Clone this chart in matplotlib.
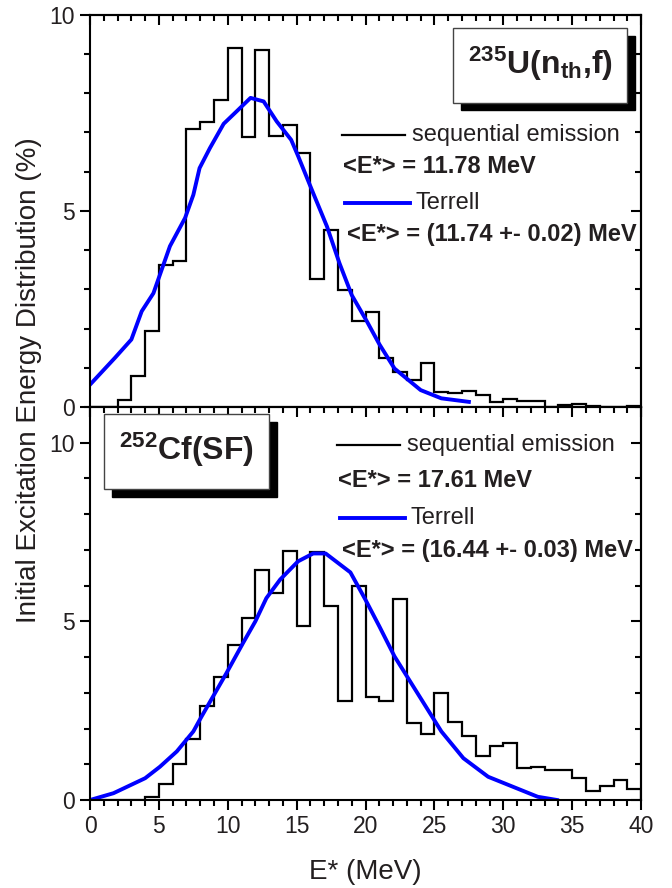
import matplotlib
matplotlib.use("Agg")
import matplotlib.pyplot as plt
from matplotlib.patches import Rectangle
from matplotlib.ticker import MultipleLocator
import numpy as np

plt.rcParams['font.family'] = ['Liberation Sans', 'DejaVu Sans']
plt.rcParams['mathtext.fontset'] = 'custom'
plt.rcParams['mathtext.bf'] = 'Liberation Sans:bold'
plt.rcParams['mathtext.rm'] = 'Liberation Sans:bold'
plt.rcParams['mathtext.default'] = 'bf'

TXT = '#231f20'

# 1 MeV bins, 0..40 MeV
edges = np.arange(0, 41)

# 235U(nth,f) - sequential emission histogram (%)
u235_seq = [0, 0, 0.19, 0.78, 1.93, 3.63, 3.73, 7.09, 7.26, 7.83,
            9.15, 6.88, 9.11, 6.92, 7.20, 6.47, 3.27, 4.50, 2.98, 2.20,
            2.43, 1.25, 0.88, 0.70, 1.11, 0.38, 0.36, 0.41, 0.31, 0.12,
            0.20, 0.16, 0.14, 0.01, 0.05, 0.08, 0.03, 0.0, 0.0, 0.03]
# 235U(nth,f) - Terrell curve
u235_ter_e = [0, 1.8, 3.0, 3.75, 4.6, 5.8, 6.9, 7.5, 7.95, 8.7, 9.7, 10.65,
              11.65, 12.6, 13.55, 14.6, 15.1, 16.2, 17.2, 18.1, 19.0, 20.1,
              21.0, 22.1, 24.0, 25.5, 27.5]
u235_ter_y = [0.57, 1.25, 1.72, 2.44, 2.9, 4.1, 4.82, 5.41, 6.09, 6.6, 7.22, 7.54,
              7.88, 7.79, 7.28, 6.81, 6.4, 5.45, 4.6, 3.67, 2.85, 2.18,
              1.6, 0.98, 0.43, 0.22, 0.13]

# 252Cf(SF) - sequential emission histogram (%)
cf252_seq = [0, 0, 0, 0, 0.09, 0.45, 1.0, 1.70, 2.64, 3.44,
             4.33, 5.09, 6.45, 5.79, 6.96, 4.86, 6.94, 5.44, 2.76, 5.98,
             2.88, 2.76, 5.63, 2.15, 1.84, 2.99, 2.17, 1.78, 1.24, 1.52,
             1.59, 0.89, 0.93, 0.84, 0.84, 0.61, 0.25, 0.40, 0.56, 0.30]
# 252Cf(SF) - Terrell curve
cf252_ter_e = [0, 1.7, 4.0, 5.07, 6.3, 7.5, 8.1, 9.9, 11.1, 12.0, 12.8, 13.8,
               15.1, 16.2, 17.1, 18.9, 20.0, 21.0, 22.1, 25.5, 27.1, 28.9,
               32.5, 33.9]
cf252_ter_y = [0, 0.19, 0.61, 0.93, 1.36, 1.92, 2.34, 3.55, 4.39, 5.0, 5.65, 6.17,
               6.68, 6.9, 6.9, 6.37, 5.6, 4.86, 4.02, 1.92, 1.17, 0.65,
               0.09, 0.0]

u235_mean_seq = "<E*> = 11.78 MeV"
u235_mean_ter = "<E*> = (11.74 +- 0.02) MeV"
cf252_mean_seq = "<E*> = 17.61 MeV"
cf252_mean_ter = "<E*> = (16.44 +- 0.03) MeV"


def style_axis(ax, ymax, xlabels):
    ax.set_xlim(0, 40)
    ax.set_ylim(0, ymax)
    ax.xaxis.set_major_locator(MultipleLocator(5))
    ax.xaxis.set_minor_locator(MultipleLocator(1))
    ax.yaxis.set_major_locator(MultipleLocator(5))
    ax.yaxis.set_minor_locator(MultipleLocator(1))
    ax.tick_params(which='both', direction='out', width=1.5, colors='black',
                   labelcolor=TXT, labelsize=16.5, top=False, right=False,
                   labelbottom=xlabels)
    ax.tick_params(which='major', length=7, pad=4)
    ax.tick_params(which='minor', length=4.5)
    for sp in ax.spines.values():
        sp.set_linewidth(1.5)
    # mirrored axes with inward ticks
    sx = ax.secondary_xaxis('top')
    sx.xaxis.set_major_locator(MultipleLocator(5))
    sx.xaxis.set_minor_locator(MultipleLocator(1))
    sx.tick_params(which='both', direction='in', width=1.5, labeltop=False)
    sx.tick_params(which='major', length=7)
    sx.tick_params(which='minor', length=4.5)
    sx.spines['top'].set_linewidth(1.5)
    sy = ax.secondary_yaxis('right')
    sy.yaxis.set_major_locator(MultipleLocator(5))
    sy.yaxis.set_minor_locator(MultipleLocator(1))
    sy.tick_params(which='both', direction='in', width=1.5, labelright=False)
    sy.tick_params(which='major', length=7)
    sy.tick_params(which='minor', length=4.5)
    sy.spines['right'].set_linewidth(1.5)


def shadow_box(ax, x0, y0, x1, y1, label):
    dx, dy = 0.0145, 0.02
    ax.add_patch(Rectangle((x0 + dx, y0 - dy), x1 - x0, y1 - y0, transform=ax.transAxes,
                           facecolor='black', edgecolor='black', zorder=5))
    ax.add_patch(Rectangle((x0, y0), x1 - x0, y1 - y0, transform=ax.transAxes,
                           facecolor='white', edgecolor='#444444', lw=1.0, zorder=6))
    ax.text((x0 + x1) / 2, (y0 + y1) / 2 + 0.005, label, transform=ax.transAxes,
            ha='center', va='center', fontsize=23, fontweight='bold', color=TXT, zorder=7)


def legend_block(ax, x, ys, mean_seq, mean_ter):
    y1, y2, y3, y4 = ys
    ax.plot([x, x + 0.115], [y1, y1], color='black', lw=1.6, transform=ax.transAxes)
    ax.text(x + 0.127, y1, "sequential emission", transform=ax.transAxes,
            ha='left', va='center', fontsize=17, color=TXT)
    ax.text(x + 0.002, y2, mean_seq, transform=ax.transAxes,
            ha='left', va='center', fontsize=17, fontweight='bold', color=TXT)
    ax.plot([x + 0.006, x + 0.124], [y3, y3], color='#0000ff', lw=2.8, transform=ax.transAxes)
    ax.text(x + 0.134, y3, "Terrell", transform=ax.transAxes,
            ha='left', va='center', fontsize=17, color=TXT)
    ax.text(x + 0.009, y4, mean_ter, transform=ax.transAxes,
            ha='left', va='center', fontsize=17, fontweight='bold', color=TXT)


fig = plt.figure(figsize=(6.72, 8.88), dpi=100)
ax1 = fig.add_axes([0.134, 0.5417, 0.820, 0.4417])
ax2 = fig.add_axes([0.134, 0.0991, 0.820, 0.4426])

# top panel: 235U(nth,f)
ax1.stairs(u235_seq, edges, color='black', lw=1.6, baseline=0)
ax1.plot(u235_ter_e, u235_ter_y, color='#0000ff', lw=2.8)
style_axis(ax1, 10, False)
shadow_box(ax1, 0.659, 0.776, 0.974, 0.966, r'$^{235}$U(n$_{th}$,f)')
legend_block(ax1, 0.457, (0.694, 0.613, 0.520, 0.439), u235_mean_seq, u235_mean_ter)

# bottom panel: 252Cf(SF)
ax2.stairs(cf252_seq, edges, color='black', lw=1.6, baseline=0)
ax2.plot(cf252_ter_e, cf252_ter_y, color='#0000ff', lw=2.8)
style_axis(ax2, 11, True)
shadow_box(ax2, 0.0254, 0.792, 0.3254, 0.981, r'$^{252}$Cf(SF)')
legend_block(ax2, 0.448, (0.903, 0.814, 0.718, 0.636), cf252_mean_seq, cf252_mean_ter)

fig.text(0.043, 0.572, "Initial Excitation Energy Distribution (%)", rotation=90,
         ha='center', va='center', fontsize=20, color=TXT)
fig.text(0.543, 0.0185, "E* (MeV)", ha='center', va='center', fontsize=20, color=TXT)

fig.savefig("out.png", dpi=100)
